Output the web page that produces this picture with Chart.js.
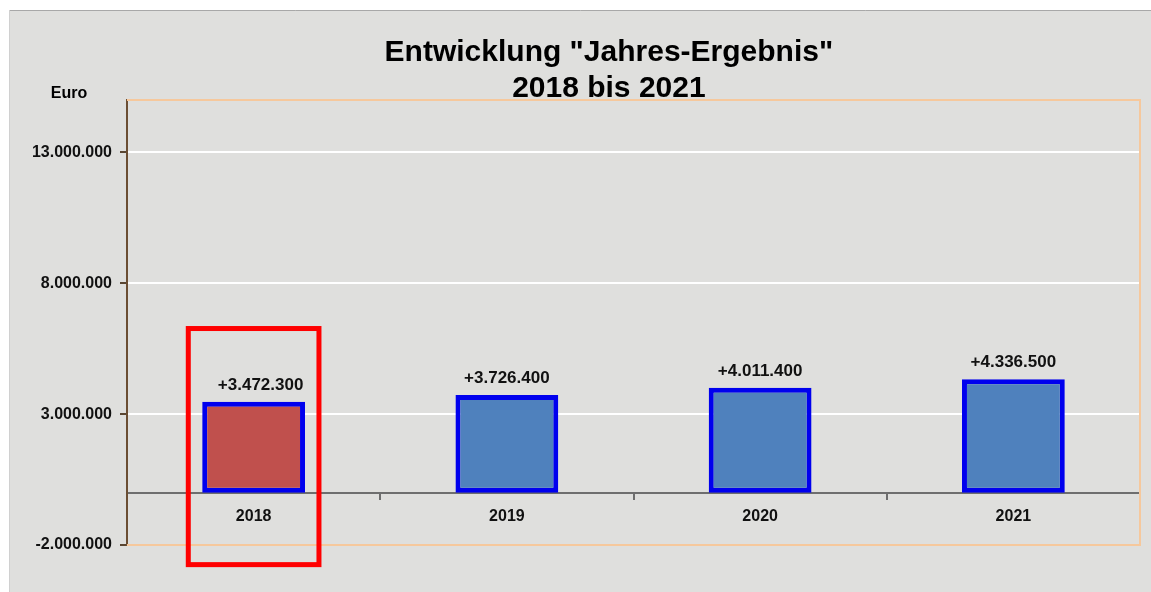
<!DOCTYPE html>
<html>
<head>
<meta charset="utf-8">
<script src="https://cdn.jsdelivr.net/npm/chart.js@4.4.1/dist/chart.umd.min.js"></script>
<style>
  html, body { margin: 0; padding: 0; background: #ffffff; }
  #wrap { position: relative; width: 1151px; height: 592px; }
</style>
</head>
<body>
<div id="wrap"><canvas id="resultChart"></canvas></div>
<script>
// Chart data
const years = ['2018', '2019', '2020', '2021'];
const results = [3472300, 3726400, 4011400, 4336500];
const yTickValues = [-2000000, 3000000, 8000000, 13000000];
const titleLines = ['Entwicklung "Jahres-Ergebnis"', '2018 bis 2021'];
const unitLabel = 'Euro';

const FONT = '"Liberation Sans", Arial, Helvetica, sans-serif';

// 1.234.567 style
function formatDE(v) {
    const s = Math.abs(Math.round(v)).toString().replace(/\B(?=(\d{3})+(?!\d))/g, '.');
    return (v < 0 ? '-' : '') + s;
}

const backgroundPlugin = {
    id: 'paperBackground',
    beforeDraw(chart) {
        const ctx = chart.ctx;
        ctx.save();
        ctx.fillStyle = '#dfdfdd';
        ctx.fillRect(10, 10, chart.width - 10, chart.height - 10);
        ctx.strokeStyle = '#a8a8a8';
        ctx.lineWidth = 1;
        ctx.beginPath();
        ctx.moveTo(10, 10.5);
        ctx.lineTo(chart.width, 10.5);
        ctx.stroke();
        ctx.strokeStyle = '#d0d0d0';
        ctx.beginPath();
        ctx.moveTo(9.5, 10);
        ctx.lineTo(9.5, chart.height);
        ctx.stroke();
        ctx.restore();
    }
};

const frameAndLabelsPlugin = {
    id: 'frameAndLabels',
    beforeDatasetsDraw(chart) {
        // thin orange frame round the plot area (left side is the y axis)
        const a = chart.chartArea;
        const ctx = chart.ctx;
        ctx.save();
        ctx.strokeStyle = '#f6c89c';
        ctx.lineWidth = 2;
        ctx.beginPath();
        ctx.moveTo(a.left, a.top);
        ctx.lineTo(a.right, a.top);
        ctx.lineTo(a.right, a.bottom);
        ctx.lineTo(a.left, a.bottom);
        ctx.stroke();
        ctx.restore();
    },
    afterDatasetsDraw(chart) {
        const ctx = chart.ctx;
        const meta = chart.getDatasetMeta(0);
        ctx.save();
        ctx.font = 'bold 17px ' + FONT;
        ctx.fillStyle = '#111111';
        ctx.textAlign = 'center';
        ctx.textBaseline = 'bottom';
        meta.data.forEach(function(bar, i) {
            const v = results[i];
            // the first label sits a little to the right in the original
            const dx = i === 0 ? 7 : 0;
            ctx.fillText((v > 0 ? '+' : '') + formatDE(v), bar.x + dx, bar.y - 8);
        });
        ctx.restore();
    },
    afterDraw(chart) {
        const ctx = chart.ctx;
        const a = chart.chartArea;
        const xs = chart.scales.x;
        const ys = chart.scales.y;
        ctx.save();

        // title
        ctx.fillStyle = '#000000';
        ctx.font = 'bold 30px ' + FONT;
        ctx.textAlign = 'center';
        ctx.textBaseline = 'middle';
        const tx = chart.width * 0.529;
        ctx.fillText(titleLines[0], tx, 53);
        ctx.fillText(titleLines[1], tx, 89);

        // unit label
        ctx.font = 'bold 16px ' + FONT;
        ctx.fillText(unitLabel, 69, 94);

        // red highlight box round the first year
        const catW = (a.right - a.left) / years.length;
        const cx = xs.getPixelForValue(0);
        const top = ys.getPixelForValue(6270000);
        const bottom = ys.getPixelForValue(-2750000);
        ctx.strokeStyle = '#ff0000';
        ctx.lineWidth = 5;
        ctx.strokeRect(cx - catW * 0.258, top, catW * 0.516, bottom - top);
        ctx.restore();
    }
};

const ctx = document.getElementById('resultChart').getContext('2d');
new Chart(ctx, {
    type: 'bar',
    data: {
        labels: years,
        datasets: [{
            data: results,
            backgroundColor: years.map(function(y, i) { return i === 0 ? '#c0504d' : '#4f81bd'; }),
            borderColor: '#0000ee',
            borderWidth: 5,
            borderSkipped: false,
            barPercentage: 0.406,
            categoryPercentage: 1
        }]
    },
    options: {
        responsive: true,
        maintainAspectRatio: false,
        animation: false,
        layout: {
            padding: { left: 0, right: 11, top: 100, bottom: 47 }
        },
        plugins: {
            legend: { display: false },
            tooltip: { enabled: false },
            title: { display: false }
        },
        scales: {
            x: {
                position: { y: 0 },
                offset: true,
                grid: {
                    drawOnChartArea: false,
                    drawTicks: true,
                    tickLength: 6,
                    color: '#6e6e6e',
                    lineWidth: 2
                },
                border: { color: '#6e6e6e', width: 2 },
                ticks: {
                    color: '#111111',
                    padding: 8,
                    font: { family: FONT, size: 16, weight: 'bold' }
                }
            },
            y: {
                min: -2000000,
                max: 15000000,
                afterBuildTicks: function(scale) {
                    scale.ticks = yTickValues.map(function(v) { return { value: v }; });
                },
                afterFit: function(scale) {
                    scale.width = 127;
                },
                grid: {
                    color: function(c) {
                        return c.tick && c.tick.value > -2000000 ? '#ffffff' : 'rgba(0,0,0,0)';
                    },
                    lineWidth: 2,
                    tickColor: '#5a4632',
                    tickLength: 7,
                    drawTicks: true
                },
                border: { color: '#6b4e33', width: 2 },
                ticks: {
                    color: '#111111',
                    padding: 8,
                    font: { family: FONT, size: 16, weight: 'bold' },
                    callback: function(v) { return formatDE(v); }
                }
            }
        }
    },
    plugins: [backgroundPlugin, frameAndLabelsPlugin]
});
</script>
</body>
</html>
